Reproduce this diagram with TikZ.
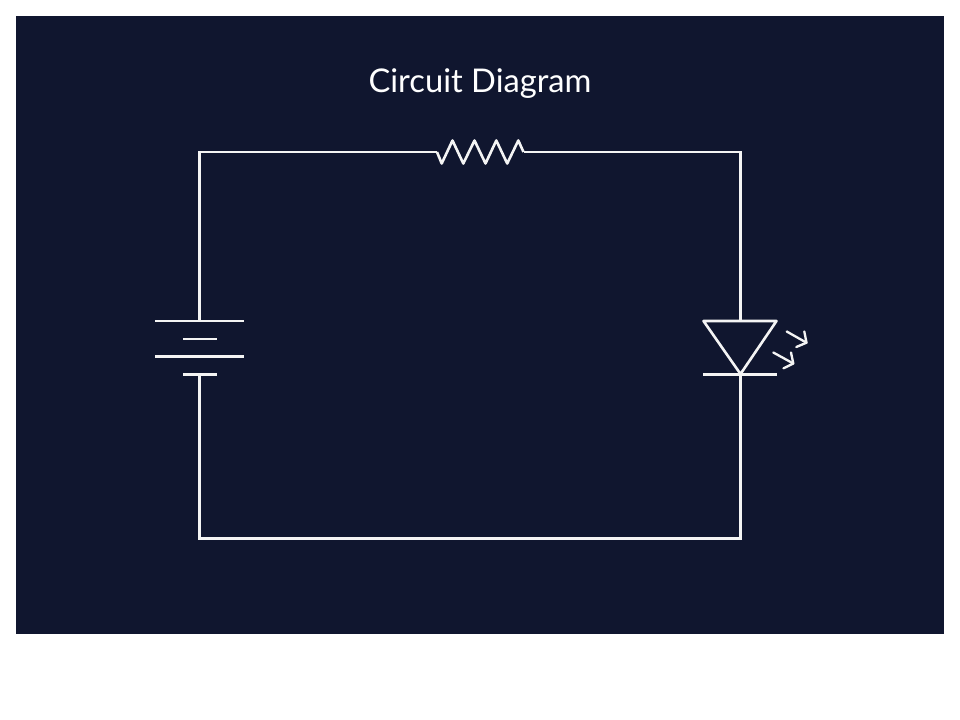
\documentclass[tikz,border=0pt]{standalone}
\usepackage{fontspec}
\setmainfont{Lato}
\definecolor{panelbg}{HTML}{10162F}
\definecolor{wirecol}{HTML}{F4F4F4}
\tikzset{
  wire/.style={draw=wirecol,line width=1.95pt,line join=miter},
  thinwire/.style={draw=wirecol,line width=1.75pt,line cap=round,line join=round},
  title/.style={text=white,font=\fontsize{24.5pt}{28pt}\selectfont,inner sep=0pt,anchor=base}
}
\begin{document}
\begin{tikzpicture}[x=0.75pt,y=-0.75pt]
\useasboundingbox (0,0) rectangle (960,720);
\fill[white] (0,0) rectangle (960,720);
\fill[panelbg] (16,16) rectangle (944,634.4);
\node[title] (heading) at (480,92.7) {Circuit Diagram};
% junction points
\coordinate (resL) at (437,152);
\coordinate (resR) at (523.5,152);
\coordinate (batTop) at (199.3,321);
\coordinate (batBot) at (199.3,374.5);
\coordinate (ledTop) at (740.5,321);
\coordinate (ledBot) at (740.5,374.5);
\coordinate (tl) at (199.3,152);
\coordinate (tr) at (740.5,152);
\coordinate (bl) at (199.3,538.3);
\coordinate (br) at (740.5,538.3);
% wires
\draw[wire] (batTop) -- (tl) -- (resL);
\draw[wire] (resR) -- (tr) -- (ledTop);
\draw[wire] (ledBot) -- (br) -- (bl) -- (batBot);
% resistor
\draw[wire,line join=round] (resL) -- (441.7,163.5) -- (452.5,140.5) -- (463.3,163.5) -- (474.5,140.5) -- (485.5,163.5) -- (496.3,140.5) -- (507.2,163.5) -- (518.3,140.5) -- (resR);
% battery
\coordinate (b1l) at (155,321); \coordinate (b1r) at (244,321);
\coordinate (b2l) at (183,339); \coordinate (b2r) at (217,339);
\coordinate (b3l) at (155,356.5); \coordinate (b3r) at (244,356.5);
\coordinate (b4l) at (183,374.5); \coordinate (b4r) at (217,374.5);
\draw[wire] (b1l) -- (b1r);
\draw[wire] (b2l) -- (b2r);
\draw[wire] (b3l) -- (b3r);
\draw[wire] (b4l) -- (b4r);
% LED
\coordinate (ledA) at (703.5,321); \coordinate (ledB) at (776.5,321); \coordinate (ledC) at (740.5,374);
\draw[wire,line join=round] (ledA) -- (ledB) -- (ledC) -- cycle;
\coordinate (barL) at (703,374.5); \coordinate (barR) at (777,374.5);
\draw[wire] (barL) -- (barR);
% light arrows
\coordinate (a1s) at (786.7,331.5); \coordinate (a1t) at (806.5,342.7);
\coordinate (a2s) at (773.3,352.5); \coordinate (a2t) at (793.3,363.5);
\draw[thinwire] (a1s) -- (a1t);
\draw[thinwire] (804.3,331.5) -- (a1t) -- (796.3,347);
\draw[thinwire] (a2s) -- (a2t);
\draw[thinwire] (791,352.5) -- (a2t) -- (783.5,368.3);
\end{tikzpicture}
\end{document}
